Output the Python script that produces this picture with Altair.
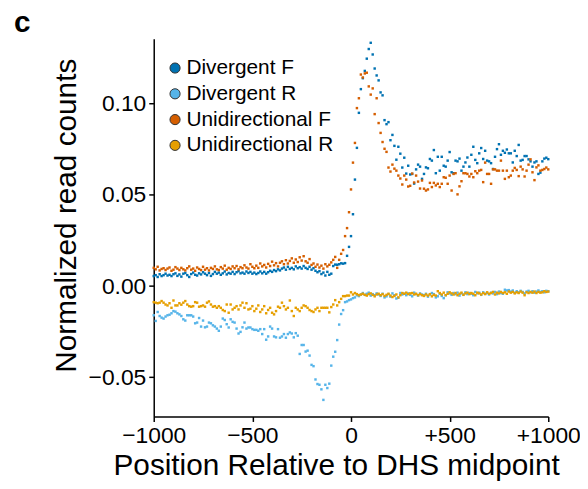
import altair as alt
import pandas as pd

# Position relative to DHS midpoint (bp)
positions = list(range(-1000, 1001, 10))

series_names = ["Divergent F", "Divergent R", "Unidirectional F", "Unidirectional R"]
series_colors = ["#0072B2", "#56B4E9", "#D55E00", "#E69F00"]

# Normalized read counts, in units of 1e-3
div_f = [
    5.5, 6.0, 5.0, 6.5, 5.5, 6.0, 6.8, 5.8, 6.2, 5.5,
    6.5, 7.0, 5.6, 6.4, 5.2, 6.8, 7.2, 6.0, 5.0, 6.6,
    7.4, 6.2, 5.8, 7.0, 6.4, 7.6, 6.8, 6.0, 7.2, 5.6,
    6.6, 7.8, 6.8, 7.4, 6.2, 7.0, 8.0, 6.4, 7.2, 6.8,
    7.8, 6.6, 7.6, 8.2, 7.0, 7.4, 6.8, 8.0, 7.2, 7.8,
    6.8, 7.4, 6.6, 7.2, 8.0, 7.0, 7.8, 6.8, 7.6, 8.4,
    7.8, 8.8, 8.2, 9.2, 8.6, 9.6, 10.2, 9.0, 10.6, 9.4,
    10.0, 9.2, 10.8, 9.8, 10.4, 9.6, 11.0, 10.0, 9.4, 10.6,
    9.0, 9.8, 8.4, 7.6, 8.2, 6.6, 7.4, 5.8, 7.8, 6.2,
    6.8, 11.0, 11.8, 11.7, 12.0, 12.5, 12.3, 12.6, 16.6, 21.5,
    27.4, 39.4, 58.4, 75.8, 95.0, 108.0, 114.0, 118.0, 124.7, 130.0,
    133.4, 127.0, 119.3, 115.5, 112.8, 106.2, 104.6, 91.0, 88.8, 89.9,
    80.0, 82.9, 76.9, 69.3, 76.4, 72.6, 65.0, 70.4, 61.7, 66.0,
    61.2, 61.5, 56.2, 64.0, 66.6, 65.5, 58.8, 61.5, 65.1, 64.6,
    69.7, 68.8, 74.6, 61.9, 70.9, 63.3, 70.9, 66.0, 65.5, 68.8,
    73.5, 62.4, 61.9, 68.8, 68.4, 69.9, 63.3, 65.5, 67.8, 70.5,
    65.5, 72.0, 76.4, 69.2, 67.4, 72.8, 75.7, 69.7, 74.2, 68.8,
    68.4, 67.4, 64.2, 70.9, 75.1, 77.8, 72.0, 74.2, 73.1, 74.9,
    72.8, 72.8, 67.8, 74.2, 71.3, 77.4, 68.8, 69.2, 71.3, 71.3,
    69.5, 68.4, 65.5, 67.8, 68.4, 61.5, 62.2, 68.4, 69.9, 70.4,
    69.6,
]

div_r = [
    -16.0, -19.1, -14.2, -16.4, -17.3, -17.8, -16.7, -16.0, -15.7, -14.9,
    -13.7, -14.0, -14.9, -15.5, -16.4, -18.2, -18.9, -16.0, -16.0, -16.0,
    -16.7, -20.4, -20.0, -17.5, -22.2, -18.9, -22.6, -22.2, -20.0, -20.4,
    -21.5, -22.2, -23.3, -24.5, -22.2, -17.8, -18.6, -20.9, -22.7, -18.2,
    -19.6, -20.0, -23.3, -26.0, -25.1, -22.6, -20.0, -23.3, -22.7, -22.7,
    -23.6, -24.0, -24.0, -24.5, -23.6, -26.3, -23.6, -29.4, -27.6, -22.2,
    -23.3, -27.6, -28.1, -23.6, -28.3, -27.6, -26.3, -28.3, -26.3, -25.4,
    -26.0, -28.1, -25.8, -27.2, -37.2, -32.3, -32.3, -35.9, -35.4, -38.1,
    -43.2, -43.9, -51.2, -53.7, -54.1, -56.6, -62.4, -54.1, -55.9, -53.5,
    -43.6, -38.7, -36.0, -29.6, -21.1, -15.3, -13.2, -8.8, -8.4, -7.7,
    -7.3, -6.6, -6.2, -5.0, -5.5, -4.6, -3.8, -4.8, -4.2, -3.6,
    -5.2, -4.4, -5.0, -4.0, -4.6, -5.4, -4.2, -6.2, -5.6, -4.4,
    -5.8, -4.0, -5.0, -6.8, -6.4, -3.8, -4.6, -4.2, -5.0, -4.0,
    -4.8, -5.6, -3.6, -4.4, -5.2, -4.0, -4.6, -5.0, -4.2, -5.8,
    -4.6, -3.8, -4.4, -6.2, -5.6, -4.2, -5.4, -6.6, -5.0, -3.4,
    -4.0, -4.8, -3.8, -4.4, -3.6, -5.2, -4.0, -4.6, -3.4, -4.4,
    -3.8, -4.2, -5.0, -3.2, -4.0, -3.6, -4.8, -3.4, -4.2, -3.8,
    -4.6, -3.6, -4.0, -3.2, -4.4, -3.0, -3.8, -4.2, -2.0, -2.4,
    -2.2, -3.0, -2.4, -3.6, -2.8, -3.4, -2.6, -3.2, -4.0, -3.0,
    -2.6, -3.4, -2.8, -3.6, -3.0, -2.4, -3.2, -2.8, -3.4, -2.6,
    -2.8,
]

uni_f = [
    10.0, 9.2, 10.6, 8.6, 9.4, 9.8, 8.8, 9.6, 10.2, 8.4,
    9.0, 10.4, 9.6, 8.8, 10.0, 9.2, 8.6, 9.8, 10.8, 9.0,
    9.6, 8.4, 10.2, 9.4, 8.8, 10.6, 9.0, 9.8, 8.6, 10.0,
    9.4, 10.8, 9.2, 8.8, 10.4, 9.6, 11.2, 9.0, 10.0, 9.4,
    10.8, 9.8, 11.0, 9.2, 10.4, 9.8, 11.4, 10.2, 9.6, 12.0,
    10.6, 9.8, 11.2, 10.0, 12.4, 10.8, 11.6, 10.2, 12.2, 11.0,
    13.4, 11.4, 12.6, 10.8, 12.8, 13.6, 12.0, 14.2, 12.4, 13.8,
    15.2, 12.8, 14.6, 13.2, 15.8, 14.0, 16.4, 13.6, 12.8, 14.8,
    11.6, 12.4, 10.6, 11.8, 10.2, 11.2, 9.6, 12.0, 10.8, 11.7,
    13.0, 14.4, 16.0, 10.0, 14.4, 17.7, 19.8, 27.4, 31.8, 40.5,
    53.0, 67.7, 78.5, 97.6, 103.0, 116.0, 114.4, 116.6, 117.0, 109.5,
    105.0, 108.4, 94.3, 103.0, 89.4, 84.0, 79.0, 75.3, 73.6, 65.0,
    62.8, 66.6, 64.4, 63.3, 60.6, 59.0, 55.7, 60.6, 58.4, 54.6,
    55.0, 61.7, 56.8, 60.6, 57.3, 53.5, 57.9, 53.4, 52.4, 53.0,
    56.6, 54.3, 56.6, 55.2, 56.1, 54.3, 56.1, 59.7, 59.4, 56.1,
    60.6, 52.4, 61.5, 61.9, 50.3, 54.7, 57.5, 61.9, 61.9, 61.5,
    60.1, 61.5, 59.7, 63.0, 61.9, 63.3, 63.7, 57.0, 67.7, 61.5,
    61.5, 56.1, 64.0, 64.0, 63.3, 63.3, 68.8, 63.3, 58.8, 63.3,
    59.7, 60.6, 63.3, 64.8, 63.7, 60.3, 65.5, 64.0, 60.1, 63.3,
    66.6, 69.5, 62.4, 58.1, 65.1, 66.2, 63.3, 63.7, 64.2, 65.0,
    64.0,
]

uni_r = [
    -8.8, -9.1, -9.4, -9.1, -8.2, -9.1, -10.1, -10.6, -9.4, -11.9,
    -7.9, -10.6, -10.6, -9.4, -10.2, -9.1, -8.2, -10.1, -11.0, -11.3,
    -11.0, -8.8, -9.1, -11.3, -11.0, -10.6, -11.3, -9.1, -8.4, -10.1,
    -11.3, -11.0, -11.9, -11.0, -11.9, -13.1, -13.7, -10.1, -14.6, -10.1,
    -12.8, -11.9, -11.0, -12.8, -10.6, -9.1, -11.9, -9.4, -12.8, -12.4,
    -11.0, -13.7, -12.4, -10.6, -14.2, -12.8, -11.0, -14.9, -13.1, -11.9,
    -14.6, -15.5, -13.7, -11.3, -11.9, -9.1, -11.0, -12.8, -11.9, -7.9,
    -13.7, -16.4, -11.9, -12.8, -13.7, -11.9, -10.6, -11.0, -11.9, -13.1,
    -13.7, -14.2, -12.8, -11.9, -13.7, -11.9, -11.9, -11.9, -11.9, -14.4,
    -11.5, -10.1, -7.7, -10.6, -8.8, -7.0, -5.5, -5.5, -5.2, -5.2,
    -3.4, -4.6, -3.8, -4.4, -5.0, -4.6, -4.2, -4.8, -5.2, -4.4,
    -4.0, -4.8, -5.6, -4.6, -4.2, -5.0, -4.4, -5.4, -4.8, -4.2,
    -5.2, -6.0, -5.4, -4.6, -6.2, -5.0, -3.8, -4.2, -3.6, -4.4,
    -4.0, -3.8, -4.6, -4.2, -5.0, -4.4, -5.0, -5.4, -4.6, -5.2,
    -4.4, -5.6, -4.8, -5.2, -2.8, -3.8, -4.6, -3.6, -5.0, -4.2,
    -3.4, -4.0, -4.6, -3.8, -5.0, -4.2, -3.6, -4.8, -4.0, -3.6,
    -4.4, -3.8, -4.2, -5.0, -3.6, -4.0, -4.6, -3.8, -4.4, -3.4,
    -4.2, -3.8, -3.2, -4.6, -3.6, -4.0, -3.2, -3.8, -3.4, -4.2,
    -3.0, -3.6, -3.2, -4.0, -3.4, -3.8, -3.0, -3.6, -5.0, -3.4,
    -3.8, -3.2, -3.6, -3.0, -3.8, -3.2, -3.6, -3.4, -2.8, -3.2,
    -3.0,
]

x_ticks = [-1000, -500, 0, 500, 1000]
y_ticks = [-0.05, 0.0, 0.05, 0.10]
panel_label = ["c"]

rows = []
for order_idx, (name, vals) in enumerate(zip(series_names, [div_f, div_r, uni_f, uni_r])):
    for p, v in zip(positions, vals):
        rows.append({"pos": p, "val": v / 1000.0, "series": name, "k": order_idx})
df = pd.DataFrame(rows)

FONT = "Liberation Sans"

points = alt.Chart(df).mark_square(size=6, opacity=1, filled=True).encode(
    x=alt.X(
        "pos:Q",
        scale=alt.Scale(domain=[-1000, 1000], nice=False, zero=False),
        axis=alt.Axis(
            values=x_ticks,
            format="d",
            labelExpr="datum.value > 0 ? '+' + datum.label : datum.label",
            labelFlush=False,
            title="Position Relative to DHS midpoint",
            titleX=184,
        ),
    ),
    y=alt.Y(
        "val:Q",
        scale=alt.Scale(domain=[-0.0715, 0.1356], nice=False, zero=False),
        axis=alt.Axis(values=y_ticks, format=".2f", labelFlush=False,
                      title="Normalized read counts", titleY=178),
    ),
    color=alt.Color(
        "series:N",
        scale=alt.Scale(domain=series_names, range=series_colors),
        legend=alt.Legend(
            title=None,
            orient="none",
            legendX=11,
            legendY=19,
            symbolType="circle",
            symbolSize=105,
            symbolStrokeColor="#333333",
            symbolStrokeWidth=1,
            symbolOpacity=1,
            labelFontSize=21,
            labelFont=FONT,
            labelColor="black",
            labelOffset=1,
            rowPadding=4,
            padding=0,
        ),
    ),
    order=alt.Order("k:Q"),
)

label = alt.Chart(pd.DataFrame({"t": panel_label})).mark_text(
    font=FONT, fontSize=30, fontWeight="bold", color="black",
    align="left", baseline="alphabetic",
).encode(text="t:N", x=alt.value(-141), y=alt.value(-7))

chart = alt.layer(points, label).properties(
    width=398,
    height=381,
    autosize=alt.AutoSizeParams(type="none"),
    padding={"left": 147, "top": 29, "right": 32, "bottom": 63},
).configure_view(
    stroke=None
).configure_axis(
    grid=False,
    domainColor="black",
    domainWidth=1.5,
    tickColor="black",
    tickWidth=1.5,
    tickSize=5,
    labelFont=FONT,
    labelFontSize=23,
    labelColor="black",
    labelPadding=3,
    titleFont=FONT,
    titleFontSize=30,
    titleFontWeight="normal",
    titleColor="black",
).configure_axisX(
    titlePadding=4,
).configure_axisY(
    titlePadding=7,
)

chart.save("out.html", embed_options={"renderer": "svg", "actions": False})
